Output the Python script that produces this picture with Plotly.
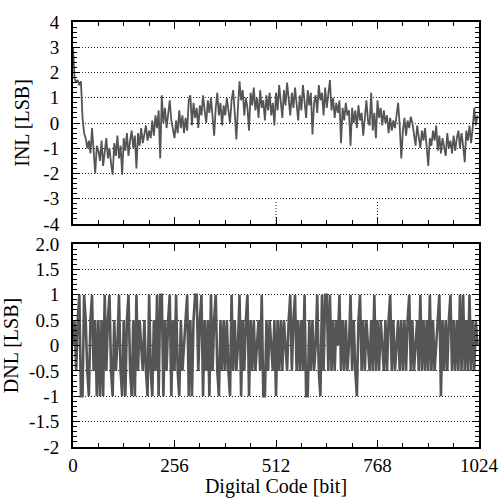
import plotly.graph_objects as go
from plotly.subplots import make_subplots

# Digital codes (sampled every 4 codes)
codes = list(range(0, 1024, 4))

inl = [
    3.0, 1.75, 1.6, 1.7, 1.5, 1.65, 0.2, -0.4, -0.6, -1.0, -0.7, -1.2, -0.2, -1.3, -2.0, -0.9,
    -1.1, -1.5, -0.7, -1.7, -1.2, -0.6, -1.4, -1.0, -1.6, -2.05, -0.8, -1.3, -0.5, -1.4, -0.9, -2.05,
    -0.6, -1.1, -0.4, -1.3, -0.7, -0.3, -1.0, -0.5, -1.8, -0.4, -0.9, -0.2, -0.8, -0.5, -0.1, -0.7,
    -0.3, -0.6, 0.1, -0.5, 0.3, -0.2, 0.5, -1.4, 1.1, 0.0, 0.6, -0.2, 0.5, 0.9, 0.1, -0.3,
    -0.6, 0.1, -0.4, 0.5, -0.2, 0.3, -0.4, 0.2, -0.3, 0.9, 1.1, -0.1, 0.8, 0.2, 0.6, -0.2,
    0.7, 0.3, 1.1, 0.5, 0.0, 0.9, 0.4, 1.0, 0.2, -0.5, 0.6, 1.2, 0.3, 0.8, -0.1, 0.7,
    0.3, 1.0, 0.5, 0.0, 0.9, 1.3, 0.4, -0.65, 0.6, 1.65, 0.9, 1.3, 0.3, 1.0, 0.6, -0.3,
    1.2, 0.7, 1.4, 0.5, 1.0, 0.2, 1.3, 0.6, 0.9, 0.1, 1.1, 0.5, 1.2, 0.3, 0.8, -0.1,
    1.2, 0.5, 1.5, 0.8, 0.2, 1.3, 0.7, 1.6, 0.9, 0.3, 1.2, 0.6, 1.4, 0.8, 0.1, 1.1,
    0.5, 1.5, 0.9, 0.2, 1.3, 0.7, 1.2, -0.45, 0.8, 1.1, 0.4, 1.5, 0.9, 1.2, 0.3, 1.4,
    0.6, 1.3, 1.7, 0.5, 1.0, 0.2, 0.8, 0.4, 0.9, -0.8, 0.6, 0.1, 0.8, 0.3, 0.5, -0.9,
    0.6, 0.0, 0.5, -0.2, 0.7, 0.1, 0.4, -0.5, 0.3, 0.9, 0.1, -0.1, 1.2, -0.3, 0.4, -0.6,
    0.9, 0.2, 0.6, -0.1, 0.5, 0.0, 0.3, -0.4, 0.2, -0.3, 0.1, -0.2, 0.3, 0.8, -0.1, -1.4,
    -0.3, 0.2, -0.5, 0.1, -0.2, 0.25, 0.0, -0.4, -0.9, -0.1, -0.5, -1.0, -0.3, -0.7, -0.2, -1.0,
    -1.7, -0.6, -0.9, -0.3, -0.7, -0.1, -1.1, -0.5, -1.2, -0.6, -0.9, -1.3, -0.4, -1.0, -0.7, -1.2,
    -0.5, -1.1, -0.6, -0.3, -1.0, -0.4, -0.9, -1.55, -0.3, -0.7, -0.1, -0.8, -0.2, 0.6, -0.1, 0.3,
]

dnl = [
    0, 0.5, -0.5, 0.5, 1, -1, -1, 1, 0.5, -0.5, -1, 0.5, 1, -0.5, 0.5, -1,
    0.5, -1, 0.5, -1, 1, -0.5, 0.5, 1, -0.5, -1, 0.5, -0.5, 0, 1, -0.5, -1,
    0.5, -1, 0.5, 1, -0.5, -1, 0.5, -1, 1, -0.5, 0.5, 0, -0.5, 0.5, -0.5, -1,
    1, -0.5, -1, 0.5, -0.5, 1, -1, 1, 1, -1, 0.5, -0.5, 0.5, 1, -1, 0.5,
    -0.5, 1, -0.5, -1, 0.5, -0.5, 0, 0.5, 1, -1, 0.5, -1, 0.5, 1, 1, -0.5,
    0.5, 1, -1, 0.5, -0.5, 0.5, -1, 1, -0.5, 0.5, 1, -0.5, -1, 0.5, -0.5, 0.5,
    -0.5, 0.5, -0.5, -1, 1, -0.5, 0.5, -0.5, 0, 1, -1, 0.5, -0.5, 0.5, 1, -1,
    0.5, -0.5, 0.5, -0.5, 0, 0.5, -0.5, 1, -1, -1, 0.5, -0.5, 0.5, 0, -0.5, 0.5,
    -1, 0.5, -0.5, 0.5, -0.5, 0.5, 0, -0.5, 0.5, 1, -0.5, 0.5, 1, -0.5, 0.5, -0.5,
    0.5, -0.5, 1, -1, -1, 0.5, -0.5, 0.5, -0.5, 0, 1, -0.5, -1, 1, -0.5, 1,
    1, -0.5, 1, -0.5, 0.5, -0.5, 0.5, 0, 1, -0.5, 0.5, -0.5, 0.5, -0.5, 0, 1,
    -0.5, 0.5, -0.5, -1, 0.5, 1, -0.5, 0.5, -0.5, 0.5, 0, -0.5, 0.5, -0.5, 1, -0.5,
    0.5, -0.5, 0.5, 0, -0.5, 0.5, -0.5, 0.5, 1, -0.5, 0.5, -0.5, 0, 0.5, -0.5, 0.5,
    -0.5, 0.5, -0.5, 0.5, 1, -0.5, 0.5, -0.5, 0, 0.5, -0.5, 1, -0.5, 0.5, -0.5, 0.5,
    -0.5, 1, -0.5, 0.5, -0.5, 0, 0.5, 1, -1, 0.5, -0.5, 0.5, -0.5, 0.5, 1, -0.5,
    0.5, -0.5, 0.5, -0.5, 1, -0.5, 1, -0.5, 0.5, -0.5, 1, -0.5, 0.5, -0.5, 0.5, 0,
]

x_ticks = [0, 256, 512, 768, 1024]
inl_ticks = [4, 3, 2, 1, 0, -1, -2, -3, -4]
inl_labels = ["4", "3", "2", "1", "0", "-1", "-2", "-3", "-4"]
dnl_ticks = [2, 1.5, 1, 0.5, 0, -0.5, -1, -1.5, -2]
dnl_labels = ["2.0", "1.5", "1", "0.5", "0", "-0.5", "-1", "-1.5", "-2"]

FONT = "Liberation Serif"
LINE = "#555555"
GRIDDASH = "1px,2px"

fig = make_subplots(rows=2, cols=1, shared_xaxes=False)
fig.add_trace(go.Scatter(x=codes, y=inl, mode="lines",
                         line=dict(color=LINE, width=1.8), showlegend=False), row=1, col=1)
fig.add_trace(go.Scatter(x=codes, y=dnl, mode="lines",
                         line=dict(color=LINE, width=2.6), showlegend=False), row=2, col=1)

common_x = dict(range=[0, 1024], tickvals=x_ticks, ticks="inside", ticklen=7,
                tickwidth=1, tickcolor="black", showline=True, linecolor="black",
                linewidth=2, mirror="ticks", showgrid=False, zeroline=False,
                automargin=False,
                minor=dict(ticks="inside", dtick=64, ticklen=4, tickcolor="black", showgrid=False))
common_y = dict(ticks="inside", ticklen=7, tickwidth=1, tickcolor="black",
                showline=True, linecolor="black", linewidth=2, mirror="ticks",
                showgrid=True, gridcolor="#222222", griddash=GRIDDASH, gridwidth=1,
                zeroline=False, ticklabelstandoff=8, automargin=False,
                title_font=dict(family=FONT, size=20, color="black"),
                tickfont=dict(family=FONT, size=19, color="black"))

fig.update_xaxes(**common_x, showticklabels=True, domain=[0, 1], row=2, col=1,
                 tickfont=dict(family=FONT, size=19, color="black"),
                 title=dict(text="Digital Code [bit]", standoff=6,
                            font=dict(family=FONT, size=20, color="black")))
fig.update_xaxes(**common_x, showticklabels=False, domain=[0, 1], row=1, col=1)
fig.update_yaxes(**common_y, range=[-4, 4], tickvals=inl_ticks, ticktext=inl_labels,
                 minor=dict(ticks="inside", dtick=0.2, ticklen=4, tickcolor="black", showgrid=False),
                 title=dict(text="INL [LSB]", standoff=8), domain=[0.5247, 1], row=1, col=1)
fig.update_yaxes(**common_y, range=[-2, 2], tickvals=dnl_ticks, ticktext=dnl_labels,
                 minor=dict(ticks="inside", dtick=0.1, ticklen=4, tickcolor="black", showgrid=False),
                 title=dict(text="DNL [LSB]", standoff=8), domain=[0, 0.4776], row=2, col=1)

for xv in (512, 768):
    fig.add_shape(type="line", x0=xv, x1=xv, y0=-4, y1=-3.05, xref="x", yref="y",
                  line=dict(color="#222222", width=1, dash=GRIDDASH))

fig.update_layout(width=500, height=498, margin=dict(l=73, r=21, t=22, b=51),
                  paper_bgcolor="white", plot_bgcolor="white",
                  font=dict(family=FONT, size=19, color="black"))

fig.write_html("out.html")
